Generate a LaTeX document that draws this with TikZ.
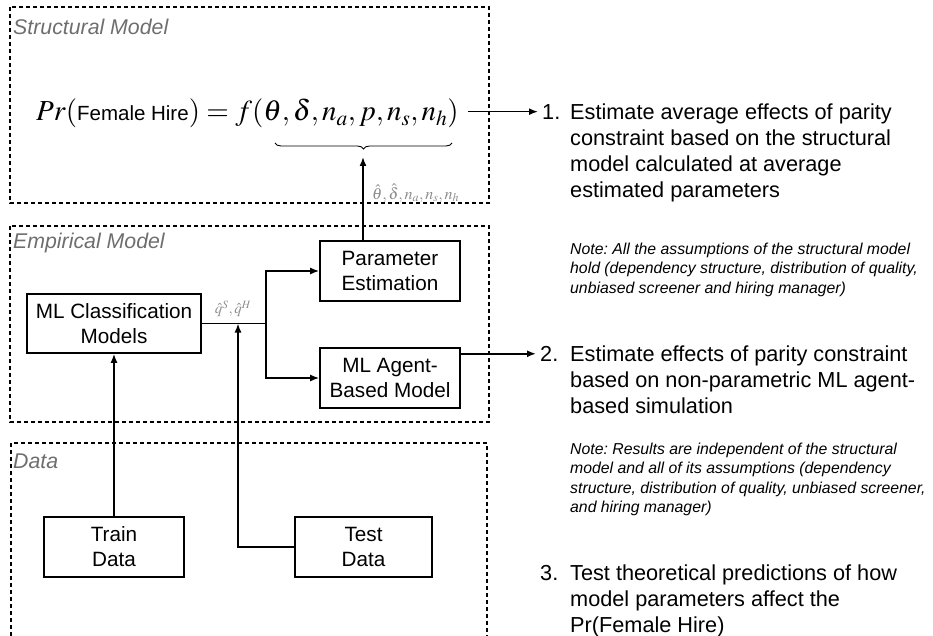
\documentclass[tikz,border=0pt]{standalone}
\usepackage{mathptmx}
\usepackage[no-math]{fontspec}
\setmainfont{Liberation Sans}
\usetikzlibrary{arrows.meta,positioning,decorations.pathreplacing}
\definecolor{labelgray}{HTML}{6E6E6E}
\definecolor{estgray}{HTML}{8C8C8C}
\frenchspacing

\begin{document}
\begin{tikzpicture}[x=1pt,y=-1pt,
  box/.style={draw,line width=1.6pt,minimum width=140pt,minimum height=60pt,align=center,inner sep=0pt,font=\fontsize{20.7}{25}\selectfont},
  region/.style={line width=1.6pt,dash pattern=on 4pt off 3pt},
  regionlabel/.style={anchor=west,inner sep=0pt,text=labelgray,font=\fontsize{21.3}{25}\selectfont\itshape},
  conn/.style={line width=1.6pt},
  arr/.style={conn,-{Latex[length=9pt,width=7pt]}},
  estimate/.style={inner sep=0pt,text=estgray,font=\fontsize{16}{19}\selectfont},
  itemnum/.style={anchor=north west,inner sep=0pt,font=\fontsize{21.7}{25.7}\selectfont},
  itemtext/.style={anchor=north west,align=left,inner sep=0pt,font=\fontsize{21.7}{25.7}\selectfont},
  notetext/.style={anchor=north west,align=left,inner sep=0pt,font=\fontsize{15.8}{19.3}\selectfont\itshape}]

\useasboundingbox (0,0) rectangle (933,636);

% dashed regions
\draw[region] (10,7) rectangle (489,203);
\draw[region] (10,226) rectangle (489,422);
\draw[region] (11,636) -- (11,443) -- (487,443) -- (487,636);

\node[regionlabel] (structlabel) at (13,27) {Structural Model};
\node[regionlabel] (emplabel) at (13,243) {Empirical Model};
\node[regionlabel] (datalabel) at (13,461) {Data};

% structural model
\node[anchor=base west,inner sep=0pt] (eq) at (36,121)
  {{\fontsize{29}{35}\selectfont$Pr($}{\fontsize{20.5}{24}\selectfont Female Hire}{\fontsize{29}{35}\selectfont$)=f(\theta,\delta,n_a,p,n_s,n_h)$}};
\draw[decorate,decoration={brace,amplitude=6pt,mirror},line width=0.9pt] (275,143) -- (452,143);
\coordinate (bracetip) at (363,157);

% empirical model
\node[box] (param) at (390,271) {Parameter\\Estimation};
\node[box] (agent) at (390,378) {ML Agent-\\Based Model};
\node[box,minimum width=174pt,minimum height=59pt] (classif) at (114,323.5) {ML Classification\\Models};

% data
\node[box] (train) at (114,547) {Train\\Data};
\node[box,minimum width=137pt] (test) at (363.5,547) {Test\\Data};

\coordinate (split) at (266,323.5);
\coordinate (merge) at (238,323.5);

\draw[conn] (classif.east) -- (split);
\draw[arr] (split) |- (param.west);
\draw[arr] (split) |- (agent.west);
\draw[arr] (train) -- (classif);
\draw[arr] (test.west) -| (merge);
\draw[arr] (bracetip |- param.north) -- (bracetip);

\node[estimate,anchor=south,font=\fontsize{15}{18}\selectfont] (qlabel) at (233,317) {$\hat q^S,\hat q^H$};
\node[estimate,anchor=west] (estlabel) at (372,193) {$\hat\theta,\hat\delta,n_a,n_s,n_h$};

% results
\node[itemnum] (num1) at (542,104) {1.};
\node[itemtext] (item1) at (570,104) {Estimate average effects of parity\\constraint based on the structural\\model calculated at average\\estimated parameters};
\node[notetext] (note1) at (570,243) {Note: All the assumptions of the structural model\\hold (dependency structure, distribution of quality,\\unbiased screener and hiring manager)};

\node[itemnum] (num2) at (540,346) {2.};
\node[itemtext] (item2) at (570,346) {Estimate effects of parity constraint\\based on non-parametric ML agent-\\based simulation};
\node[notetext] (note2) at (570,443) {Note: Results are independent of the structural\\model and all of its assumptions (dependency\\structure, distribution of quality, unbiased screener,\\and hiring manager)};

\node[itemnum] (num3) at (540,565) {3.};
\node[itemtext] (item3) at (570,565) {Test theoretical predictions of how\\model parameters affect the\\Pr(Female Hire)};

\draw[arr,shorten <=9pt,shorten >=4pt] (eq.east |- num1.west) -- (num1.west);
\draw[arr,shorten >=4pt] (agent.east |- num2.west) -- (num2.west);

\end{tikzpicture}
\end{document}
